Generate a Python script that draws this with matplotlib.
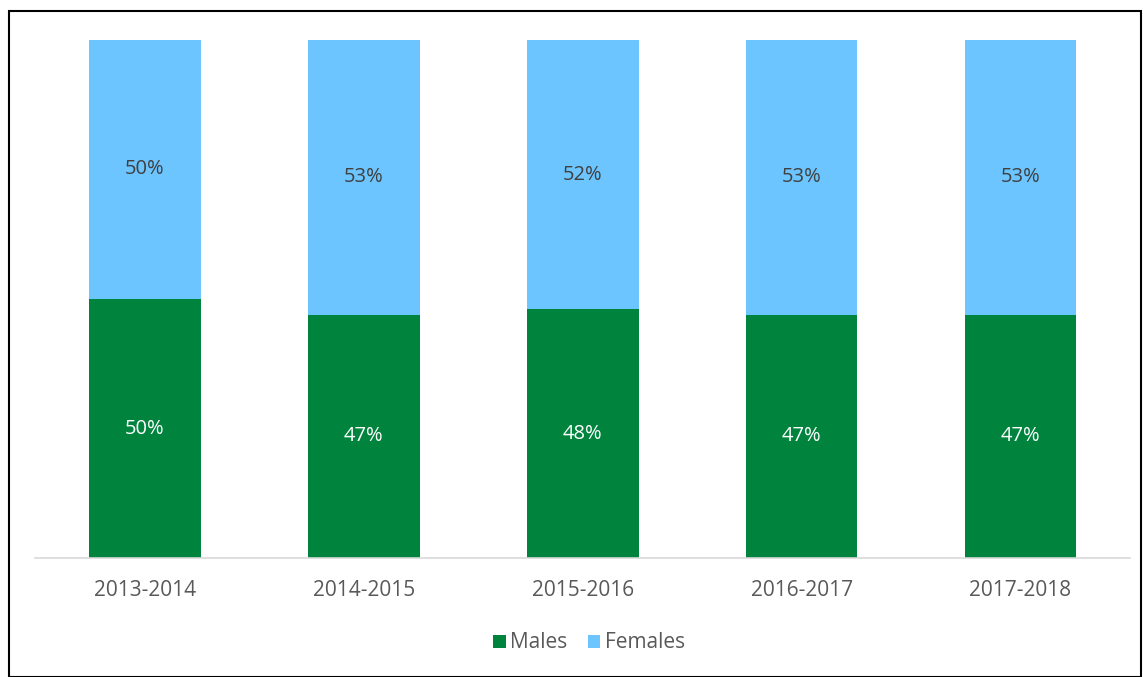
import matplotlib
matplotlib.use("Agg")
import matplotlib.pyplot as plt
from matplotlib.patches import Rectangle
import numpy as np

categories = ["2013-2014", "2014-2015", "2015-2016", "2016-2017", "2017-2018"]
males = [50, 47, 48, 47, 47]
females = [50, 53, 52, 53, 53]

plt.rcParams['font.family'] = ['Open Sans', 'DejaVu Sans']
W, H = 1143, 677
fig = plt.figure(figsize=(W/100, H/100), dpi=100)
ax = fig.add_axes([35.5/W, 1-558/H, (1130-35.5)/W, (558-40)/H])

green = "#00843D"
blue = "#6CC5FF"
x = np.arange(len(categories))
m = np.array(males) / 100
f = np.array(females) / 100
ax.bar(x, m, width=0.51, color=green, label="Males")
ax.bar(x, f, width=0.51, bottom=m, color=blue, label="Females")

for i in range(len(x)):
    ax.text(x[i], m[i]/2, f"{males[i]}%", ha="center", va="center", color="white", fontsize=14.5)
    ax.text(x[i], m[i] + f[i]/2, f"{females[i]}%", ha="center", va="center", color="#404040", fontsize=14.5)

ax.set_xlim(-0.5, len(x)-0.5)
ax.set_ylim(0, 1)
ax.set_yticks([])
ax.set_xticks(x)
ax.set_xticklabels(categories, fontsize=15, color="#595959")
ax.tick_params(axis="x", length=0, pad=16)
for s in ["top", "left", "right"]:
    ax.spines[s].set_visible(False)
ax.spines["bottom"].set_color("#D9D9D9")
ax.spines["bottom"].set_linewidth(1.2)

leg = fig.legend(loc="center", bbox_to_anchor=(589/W, 1-643/H), ncol=2, frameon=False,
                 fontsize=15, handlelength=0.6, handleheight=0.6, handletextpad=0.2,
                 columnspacing=1.0)
for t in leg.get_texts():
    t.set_color("#595959")

fig.patches.append(Rectangle((8.5/W, 0), (1141-8.5)/W, 1-10.5/H, transform=fig.transFigure,
                             fill=False, edgecolor="black", linewidth=1.5))
fig.savefig("out.png", dpi=100)
